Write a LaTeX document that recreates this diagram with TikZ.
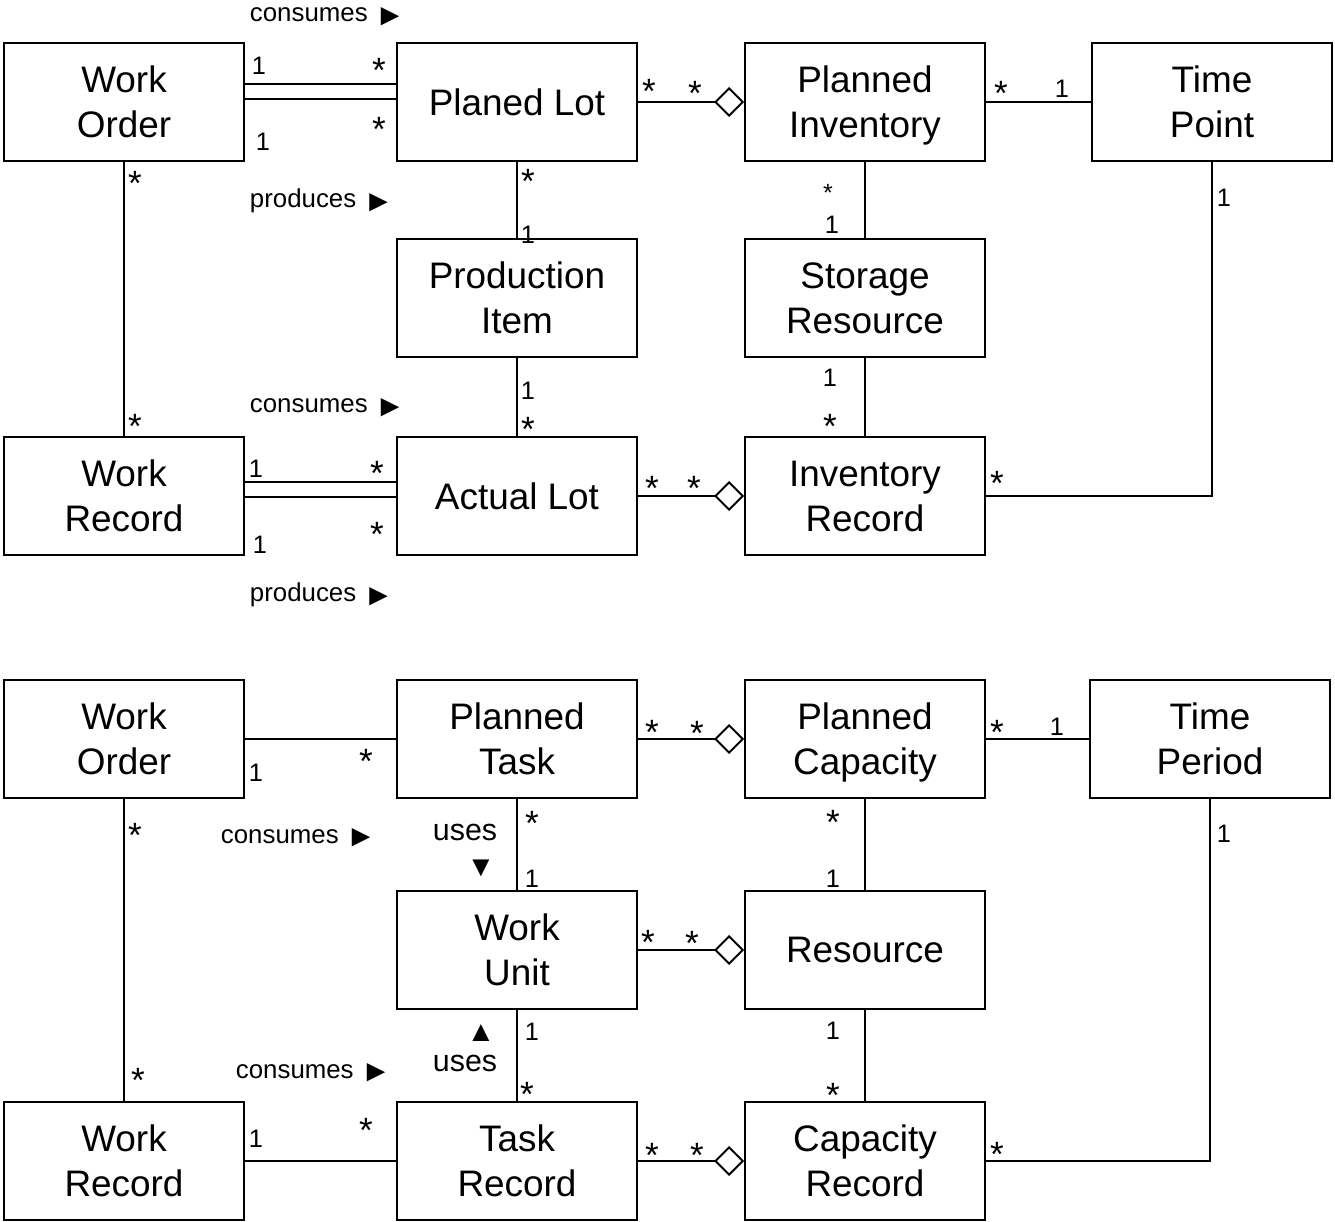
\documentclass[tikz,border=0pt]{standalone}
\usepackage{fontspec}
\setmainfont{Liberation Sans}
\usetikzlibrary{calc}
\usetikzlibrary{arrows.meta}

\newcommand{\rtri}{{\fontsize{17.5}{17}\selectfont\raisebox{-1.8pt}{►}}}

\tikzset{
  cls/.style = {draw, minimum width=4.8cm, minimum height=2.36cm, align=center, inner sep=0,
    text depth=0pt, font=\fontsize{21}{25.5}\selectfont},
  mul/.style = {inner sep=0, anchor=base, yshift=-0.18cm, font=\fontsize{14.4}{16}\selectfont},
  ast/.style = {inner sep=0, anchor=base, yshift=-0.28cm, font=\fontsize{20}{22}\selectfont},
  sast/.style = {inner sep=0, anchor=base, yshift=-0.24cm, font=\fontsize{14.2}{16}\selectfont},
  verb/.style = {inner sep=0, anchor=base west, font=\fontsize{14.7}{17}\selectfont},
  use/.style = {inner sep=0, anchor=base west, font=\fontsize{17.3}{20}\selectfont},
  tri/.style = {inner sep=0, font=\fontsize{16.5}{18}\selectfont},
  agg/.style = {-{Diamond[open,length=0.6cm,width=0.6cm]}},
}

\begin{document}
\begin{tikzpicture}[x=0.02cm, y=-0.02cm, line width=1.1pt]

\useasboundingbox (0,0) rectangle (1335,1222);

% lots and inventory
\node[cls] (wo1) at (124,102) {Work\\Order};
\node[cls] (lot) at (517,102) {Planed Lot};
\node[cls] (pinv) at (865,102) {Planned\\Inventory};
\node[cls] (tpt) at (1212,102) {Time\\Point};
\node[cls] (item) at (517,298) {Production\\Item};
\node[cls] (store) at (865,298) {Storage\\Resource};
\node[cls] (wr1) at (124,496) {Work\\Record};
\node[cls] (alot) at (517,496) {Actual Lot};
\node[cls] (irec) at (865,496) {Inventory\\Record};

\draw ($(wo1.east)+(0,-18)$) -- ($(lot.west)+(0,-18)$);
\draw ($(wo1.east)+(0,-3)$) -- ($(lot.west)+(0,-3)$);
\draw (wo1) -- (wr1);
\draw (lot) -- (item);
\draw[agg] (lot) -- (pinv);
\draw (pinv) -- (tpt);
\draw (pinv) -- (store);
\draw (tpt) |- (irec);
\draw (item) -- (alot);
\draw (store) -- (irec);
\draw ($(wr1.east)+(0,-14)$) -- ($(alot.west)+(0,-14)$);
\draw ($(wr1.east)+(0,1)$) -- ($(alot.west)+(0,1)$);
\draw[agg] (alot) -- (irec);

\node[verb] (v1) at (249,22) {consumes \rtri};
\node[verb] (v2) at (249,208) {produces \rtri};
\node[verb] (v3) at (249,413) {consumes \rtri};
\node[verb] (v4) at (249,602) {produces \rtri};

\node[mul] at (259,66) {1};
\node[ast] at (379,69) {*};
\node[mul] at (263,142) {1};
\node[ast] at (379,128) {*};
\node[ast] at (135,182) {*};
\node[ast] at (135,425) {*};
\node[ast] at (649,90) {*};
\node[ast] at (695,92) {*};
\node[ast] at (1001,92) {*};
\node[mul] at (1062,89) {1};
\node[sast] at (828,190) {*};
\node[mul] at (832,225) {1};
\node[ast] at (528,180) {*};
\node[mul] at (528,235) {1};
\node[mul] at (1224,198) {1};
\node[mul] at (528,391) {1};
\node[ast] at (528,428) {*};
\node[mul] at (830,378) {1};
\node[ast] at (830,425) {*};
\node[ast] at (997,482) {*};
\node[mul] at (256,469) {1};
\node[ast] at (377,472) {*};
\node[mul] at (260,545) {1};
\node[ast] at (377,533) {*};
\node[ast] at (652,487) {*};
\node[ast] at (694,487) {*};

% tasks and capacity
\node[cls] (wo2) at (124,739) {Work\\Order};
\node[cls] (ptask) at (517,739) {Planned\\Task};
\node[cls] (pcap) at (865,739) {Planned\\Capacity};
\node[cls] (tper) at (1210,739) {Time\\Period};
\node[cls] (unit) at (517,950) {Work\\Unit};
\node[cls] (res) at (865,950) {Resource};
\node[cls] (wr2) at (124,1161) {Work\\Record};
\node[cls] (trec) at (517,1161) {Task\\Record};
\node[cls] (crec) at (865,1161) {Capacity\\Record};

\draw (wo2) -- (ptask);
\draw (wo2) -- (wr2);
\draw (ptask) -- (unit);
\draw[agg] (ptask) -- (pcap);
\draw (pcap) -- (tper);
\draw (pcap) -- (res);
\draw (tper) |- (crec);
\draw[agg] (unit) -- (res);
\draw (unit) -- (trec);
\draw (res) -- (crec);
\draw (wr2) -- (trec);
\draw[agg] (trec) -- (crec);

\node[verb] (v5) at (220,843) {consumes \rtri};
\node[verb] (v6) at (235,1078) {consumes \rtri};
\node[use] (u1) at (432,840) {uses};
\node[tri] (t1) at (481,868) {▼};
\node[tri] (t2) at (481,1033) {▲};
\node[use] (u2) at (432,1071) {uses};

\node[mul] at (256,773) {1};
\node[ast] at (366,760) {*};
\node[ast] at (135,833) {*};
\node[ast] at (138,1078) {*};
\node[ast] at (532,822) {*};
\node[mul] at (532,878) {1};
\node[ast] at (652,731) {*};
\node[ast] at (697,732) {*};
\node[ast] at (997,731) {*};
\node[mul] at (1057,727) {1};
\node[ast] at (833,821) {*};
\node[mul] at (833,878) {1};
\node[mul] at (1224,833) {1};
\node[ast] at (648,940) {*};
\node[ast] at (692,941) {*};
\node[mul] at (532,1031) {1};
\node[ast] at (527,1092) {*};
\node[mul] at (833,1030) {1};
\node[ast] at (833,1093) {*};
\node[mul] at (256,1138) {1};
\node[ast] at (366,1128) {*};
\node[ast] at (652,1153) {*};
\node[ast] at (697,1153) {*};
\node[ast] at (997,1152) {*};

\end{tikzpicture}
\end{document}
